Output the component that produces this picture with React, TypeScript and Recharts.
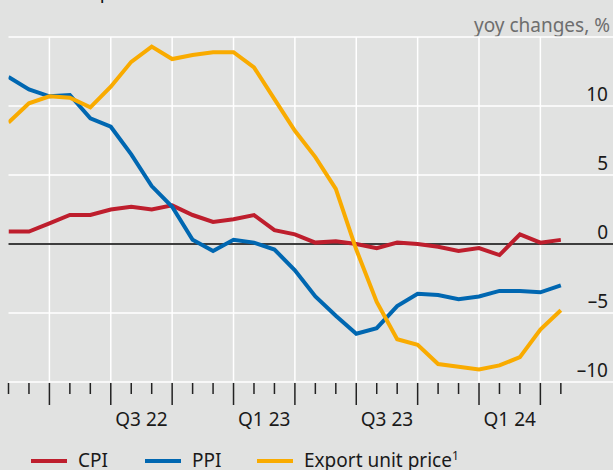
import { LineChart, Line, XAxis, YAxis, CartesianGrid, ReferenceLine } from "recharts";

const months = [
  "Jan 22", "Feb 22", "Mar 22", "Apr 22", "May 22", "Jun 22", "Jul 22", "Aug 22", "Sep 22", "Oct 22", "Nov 22", "Dec 22",
  "Jan 23", "Feb 23", "Mar 23", "Apr 23", "May 23", "Jun 23", "Jul 23", "Aug 23", "Sep 23", "Oct 23", "Nov 23", "Dec 23",
  "Jan 24", "Feb 24", "Mar 24", "Apr 24",
];

const cpi = [0.9, 0.9, 1.5, 2.1, 2.1, 2.5, 2.7, 2.5, 2.8, 2.1, 1.6, 1.8, 2.1, 1.0, 0.7, 0.1, 0.2, 0.0, -0.3, 0.1, 0.0, -0.2, -0.5, -0.3, -0.8, 0.7, 0.1, 0.3];
const ppi = [12.1, 11.2, 10.7, 10.8, 9.1, 8.5, 6.5, 4.2, 2.7, 0.3, -0.5, 0.3, 0.1, -0.4, -1.9, -3.8, -5.2, -6.5, -6.1, -4.5, -3.6, -3.7, -4.0, -3.8, -3.4, -3.4, -3.5, -3.0];
const exportPrice = [8.8, 10.2, 10.7, 10.6, 9.9, 11.4, 13.2, 14.3, 13.4, 13.7, 13.9, 13.9, 12.8, 10.5, 8.2, 6.3, 4.0, -0.4, -4.2, -6.9, -7.3, -8.7, -8.9, -9.1, -8.8, -8.2, -6.2, -4.8];

const quarterStarts = [2, 5, 8, 11, 14, 17, 20, 23, 26];
const quarterLabels = [
  { at: 6.5, label: "Q3 22" },
  { at: 12.5, label: "Q1 23" },
  { at: 18.5, label: "Q3 23" },
  { at: 24.5, label: "Q1 24" },
];
const yTicks = [-10, -5, 0, 5, 10, 15];

const data = months.map((m, i) => ({ i, month: m, cpi: cpi[i], ppi: ppi[i], exp: exportPrice[i] }));
const xTicks = [...months.map((_, i) => i), ...quarterLabels.map((q) => q.at)];

const RED = "#be1e2d";
const BLUE = "#0067b1";
const ORANGE = "#f9ab00";
const FONT = "'Noto Sans', sans-serif";

function XTick(props: any) {
  const { x, y, payload } = props;
  const v = payload.value;
  if (Number.isInteger(v)) {
    const long = quarterStarts.includes(v);
    return <line x1={x} x2={x} y1={y + 1} y2={y + (long ? 23 : 12)} stroke="#222" strokeWidth={1.5} />;
  }
  const q = quarterLabels.find((l) => l.at === v);
  return (
    <text x={x} y={y + 44} textAnchor="middle" fontSize={19} fontFamily={FONT} fill="#1a1a1a">
      {q ? q.label : ""}
    </text>
  );
}

function YTick(props: any) {
  const { y, payload, viewBox } = props;
  if (payload.value === 15) return null;
  const t = payload.value < 0 ? `\u2013${Math.abs(payload.value)}` : String(payload.value);
  const right = viewBox ? viewBox.x + viewBox.width : 613;
  return (
    <text x={Math.min(right, 613) - 5} y={y - 5} textAnchor="end" fontSize={19} fontFamily={FONT} fill="#1a1a1a">
      {t}
    </text>
  );
}

function LegendItem({ color, left, children }: { color: string; left: number; children: any }) {
  return (
    <div style={{ position: "absolute", left, top: 0, display: "flex", alignItems: "center", whiteSpace: "nowrap" }}>
      <span style={{ display: "inline-block", width: 36, height: 4, background: color, marginRight: 11, marginTop: 1 }} />
      <span>{children}</span>
    </div>
  );
}

export default function App() {
  return (
    <div
      style={{
        position: "absolute",
        left: 0,
        top: 0,
        width: 613,
        height: 470,
        background: "#e1e2e1",
        overflow: "hidden",
        fontFamily: FONT,
      }}
    >
      <div style={{ position: "absolute", left: 24, top: -18, fontSize: 19, lineHeight: "19px", color: "#111" }}>
        Chinese price indices
      </div>
      <div style={{ position: "absolute", right: 3, top: 16, fontSize: 19, lineHeight: "19px", color: "#6e6e6e" }}>
        yoy changes, %
      </div>
      <LineChart width={613} height={470} data={data} margin={{ top: 37, right: 0, left: 8.5, bottom: 0 }}>
        <CartesianGrid vertical={false} stroke="#ffffff" strokeWidth={1.5} />
        <XAxis
          dataKey="i"
          type="number"
          domain={[0, 29.55]}
          ticks={xTicks}
          interval={0}
          allowDataOverflow
          axisLine={false}
          tickLine={false}
          tickSize={0}
          tickMargin={0}
          height={88}
          tick={<XTick />}
        />
        <YAxis
          orientation="right"
          mirror
          domain={[-10, 15]}
          ticks={yTicks}
          interval={0}
          width={60}
          axisLine={false}
          tickLine={false}
          tickSize={0}
          tickMargin={0}
          tick={<YTick />}
        />
        {quarterStarts.map((q) => (
          <ReferenceLine key={q} x={q} stroke="#ffffff" strokeWidth={1.5} />
        ))}
        <ReferenceLine y={0} stroke="#000000" strokeWidth={1.5} />
        <Line dataKey="cpi" stroke={RED} strokeWidth={4} dot={false} isAnimationActive={false} />
        <Line dataKey="ppi" stroke={BLUE} strokeWidth={4} dot={false} isAnimationActive={false} />
        <Line dataKey="exp" stroke={ORANGE} strokeWidth={4} dot={false} isAnimationActive={false} />
      </LineChart>
      <div style={{ position: "absolute", left: 0, top: 453, width: 613, height: 15, fontSize: 19, lineHeight: "15px", color: "#1a1a1a" }}>
        <LegendItem color={RED} left={31}>CPI</LegendItem>
        <LegendItem color={BLUE} left={145}>PPI</LegendItem>
        <LegendItem color={ORANGE} left={257}>
          Export unit price<sup style={{ fontSize: 12, lineHeight: 0, verticalAlign: "7px" }}>1</sup>
        </LegendItem>
      </div>
    </div>
  );
}
